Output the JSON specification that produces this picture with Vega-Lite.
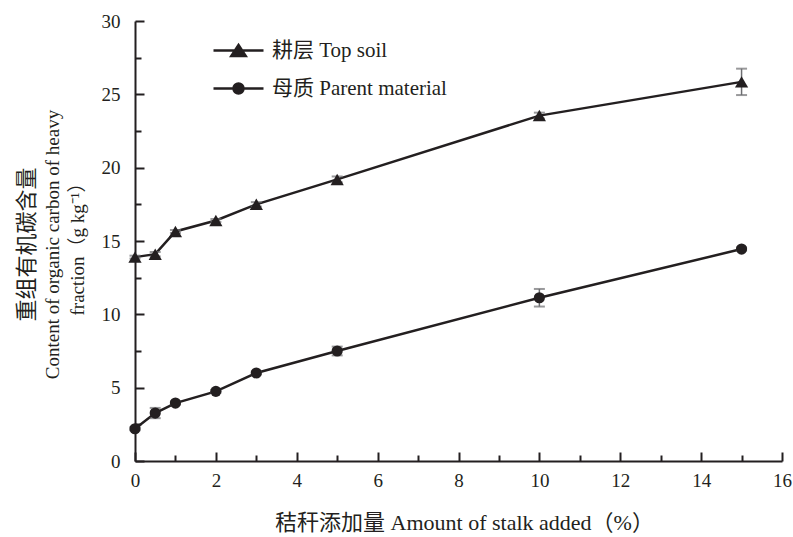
{
  "$schema": "https://vega.github.io/schema/vega-lite/v6.json",
  "width": 647,
  "height": 440,
  "autosize": "none",
  "padding": {"left": 135, "top": 21, "right": 11, "bottom": 76},
  "background": "white",
  "config": {
    "view": {"stroke": null},
    "font": "Liberation Serif, Noto Sans CJK SC",
    "axis": {
      "grid": false,
      "labelFlush": false,
      "domainColor": "#231f20",
      "domainWidth": 2,
      "tickColor": "#231f20",
      "tickWidth": 2,
      "labelColor": "#231f20",
      "labelFont": "Liberation Serif, Noto Sans CJK SC",
      "labelFontSize": 19,
      "titleColor": "#231f20",
      "titleFont": "Liberation Serif, Noto Sans CJK SC",
      "titleFontSize": 19,
      "titleFontWeight": "normal"
    },
    "legend": {
      "labelFont": "Liberation Serif, Noto Sans CJK SC",
      "labelFontSize": 21,
      "labelColor": "#231f20",
      "labelLimit": 400
    }
  },
  "data": {
    "values": [
      {"series": "耕层 Top soil", "added": 0, "value": 13.9, "err": 0.1},
      {"series": "耕层 Top soil", "added": 0.5, "value": 14.1, "err": 0.15},
      {"series": "耕层 Top soil", "added": 1, "value": 15.65, "err": 0.1},
      {"series": "耕层 Top soil", "added": 2, "value": 16.4, "err": 0.1},
      {"series": "耕层 Top soil", "added": 3, "value": 17.5, "err": 0.15},
      {"series": "耕层 Top soil", "added": 5, "value": 19.2, "err": 0.2},
      {"series": "耕层 Top soil", "added": 10, "value": 23.55, "err": 0.2},
      {"series": "耕层 Top soil", "added": 15, "value": 25.85, "err": 0.9},
      {"series": "母质 Parent material", "added": 0, "value": 2.2, "err": 0.1},
      {"series": "母质 Parent material", "added": 0.5, "value": 3.27, "err": 0.35},
      {"series": "母质 Parent material", "added": 1, "value": 3.95, "err": 0.1},
      {"series": "母质 Parent material", "added": 2, "value": 4.75, "err": 0.1},
      {"series": "母质 Parent material", "added": 3, "value": 6.0, "err": 0.1},
      {"series": "母质 Parent material", "added": 5, "value": 7.5, "err": 0.3},
      {"series": "母质 Parent material", "added": 10, "value": 11.13, "err": 0.6},
      {"series": "母质 Parent material", "added": 15, "value": 14.45, "err": 0.1}
    ]
  },
  "layer": [
    {
      "mark": {"type": "line", "color": "#231f20", "strokeWidth": 2.5},
      "encoding": {
        "x": {
          "field": "added",
          "type": "quantitative",
          "scale": {"domain": [0, 16], "nice": false, "zero": false},
          "axis": {
            "orient": "bottom",
            "values": [0, 2, 4, 6, 8, 10, 12, 14, 16],
            "tickSize": -9,
            "labelPadding": 19,
            "title": "秸秆添加量 Amount of stalk added（%）",
            "titleFontSize": 22,
            "titleX": 329,
            "titleY": 68,
            "titleAlign": "center",
            "titleBaseline": "alphabetic"
          }
        },
        "y": {
          "field": "value",
          "type": "quantitative",
          "scale": {"domain": [0, 30], "nice": false},
          "axis": {
            "orient": "left",
            "values": [0, 5, 10, 15, 20, 25, 30],
            "tickSize": -9,
            "labelPadding": 24,
            "title": ["Content of organic carbon of heavy", "fraction（g kg⁻¹）"],
            "titleAngle": -90,
            "titleX": -92,
            "titleY": 223,
            "titleAlign": "center",
            "titleBaseline": "top",
            "titleLineHeight": 25
          }
        },
        "detail": {"field": "series"}
      }
    },
    {
      "mark": {"type": "errorbar", "color": "#6d6e71", "thickness": 1.5, "ticks": {"size": 11, "thickness": 2, "color": "#6d6e71"}},
      "encoding": {
        "x": {"field": "added", "type": "quantitative", "axis": null},
        "y": {"field": "value", "type": "quantitative", "axis": null},
        "yError": {"field": "err"},
        "detail": {"field": "series"}
      }
    },
    {
      "mark": {"type": "point", "filled": true, "color": "#231f20", "opacity": 1},
      "encoding": {
        "x": {"field": "added", "type": "quantitative", "axis": null},
        "y": {"field": "value", "type": "quantitative", "axis": null},
        "shape": {
          "field": "series",
          "scale": {"domain": ["耕层 Top soil", "母质 Parent material"], "range": ["triangle-up", "circle"]},
          "legend": null
        },
        "size": {
          "field": "series",
          "type": "nominal",
          "scale": {"domain": ["耕层 Top soil", "母质 Parent material"], "range": [175, 125]},
          "legend": null
        }
      }
    },
    {
      "mark": {"type": "point", "filled": false, "color": "#231f20", "fill": "#231f20", "strokeWidth": 2.5, "opacity": 0},
      "encoding": {
        "x": {
          "field": "added",
          "type": "quantitative",
          "axis": {
            "orient": "bottom",
            "values": [1, 3, 5, 7, 9, 11, 13, 15],
            "tickSize": -6,
            "labels": false,
            "domain": false,
            "title": null
          }
        },
        "y": {
          "field": "value",
          "type": "quantitative",
          "axis": {
            "orient": "left",
            "values": [2.5, 7.5, 12.5, 17.5, 22.5, 27.5],
            "tickSize": -6,
            "labels": false,
            "domain": false,
            "title": "重组有机碳含量",
            "titleFontSize": 22,
            "titleAngle": -90,
            "titleX": -109,
            "titleY": 223,
            "titleAlign": "center",
            "titleBaseline": "middle"
          }
        },
        "shape": {
          "field": "series",
          "scale": {
            "domain": ["耕层 Top soil", "母质 Parent material"],
            "range": [
              "M-2.5,0L2.5,0M0,-0.55L0.72,0.55L-0.72,0.55Z",
              "M-2.5,0L2.5,0M0.5,0A0.5,0.5,0,1,1,-0.5,0A0.5,0.5,0,1,1,0.5,0Z"
            ]
          },
          "legend": {
            "title": null,
            "orient": "none",
            "legendX": 92,
            "legendY": 18,
            "padding": 0,
            "symbolSize": 400,
            "symbolStrokeWidth": 2.5,
            "labelOffset": 22,
            "labelLimit": 400,
            "rowPadding": 16
          }
        }
      }
    }
  ],
  "resolve": {"scale": {"shape": "independent"}, "axis": {"x": "independent", "y": "independent"}}
}
